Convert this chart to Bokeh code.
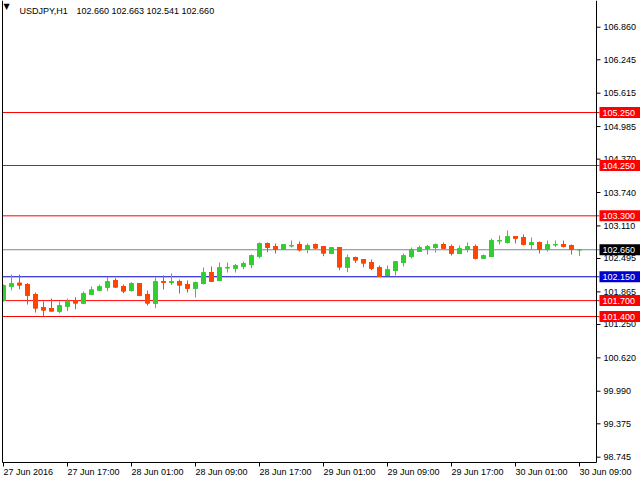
from bokeh.plotting import figure
from bokeh.models import Range1d, ColumnDataSource
from bokeh.core.properties import value
from bokeh.embed import file_html
from bokeh.resources import INLINE

symbol = "USDJPY,H1"

# hourly bars, index = hours since 27 Jun 2016 09:00
opens = [101.702, 101.972, 102.028, 102.004, 101.815, 101.570, 101.551, 101.500, 101.594, 101.696,
         101.651, 101.821, 101.897, 101.953, 102.080, 101.966, 101.891, 102.023, 101.815, 101.651,
         102.061, 102.042, 102.061, 102.004, 101.934, 102.023, 102.230, 102.080, 102.319, 102.312,
         102.349, 102.381, 102.538, 102.778, 102.721, 102.665, 102.734, 102.759, 102.665, 102.759,
         102.721, 102.595, 102.702, 102.331, 102.514, 102.476, 102.419, 102.325, 102.174, 102.268,
         102.419, 102.532, 102.627, 102.683, 102.702, 102.759, 102.721, 102.589, 102.665, 102.721,
         102.500, 102.532, 102.829, 102.797, 102.910, 102.891, 102.759, 102.797, 102.665, 102.753,
         102.759, 102.740, 102.660]
highs = [102.004, 102.193, 102.193, 102.032, 101.853, 101.683, 101.740, 101.683, 101.740, 101.764,
         101.872, 101.966, 102.004, 102.149, 102.123, 102.004, 102.048, 102.023, 101.891, 102.136,
         102.174, 102.212, 102.098, 102.080, 102.061, 102.325, 102.344, 102.419, 102.419, 102.391,
         102.438, 102.570, 102.797, 102.797, 102.778, 102.759, 102.834, 102.816, 102.778, 102.778,
         102.721, 102.702, 102.702, 102.570, 102.532, 102.476, 102.476, 102.363, 102.363, 102.438,
         102.589, 102.702, 102.740, 102.750, 102.778, 102.797, 102.759, 102.740, 102.797, 102.759,
         102.570, 102.872, 102.929, 103.023, 102.910, 102.948, 102.891, 102.816, 102.834, 102.834,
         102.834, 102.759, 102.663]
lows = [101.683, 101.897, 101.915, 101.627, 101.476, 101.400, 101.500, 101.462, 101.500, 101.538,
        101.632, 101.810, 101.878, 101.878, 101.941, 101.840, 101.872, 101.783, 101.608, 101.557,
        101.910, 101.995, 101.834, 101.853, 101.759, 102.004, 102.061, 102.080, 102.230, 102.230,
        102.293, 102.312, 102.500, 102.614, 102.589, 102.665, 102.702, 102.627, 102.595, 102.670,
        102.538, 102.576, 102.274, 102.236, 102.410, 102.331, 102.274, 102.155, 102.164, 102.174,
        102.344, 102.495, 102.627, 102.570, 102.608, 102.683, 102.551, 102.589, 102.608, 102.476,
        102.500, 102.532, 102.759, 102.778, 102.778, 102.740, 102.665, 102.589, 102.627, 102.712,
        102.702, 102.570, 102.541]
closes = [101.985, 102.023, 101.991, 101.796, 101.557, 101.519, 101.500, 101.608, 101.689, 101.651,
          101.834, 101.904, 101.966, 102.061, 101.953, 101.878, 102.023, 101.796, 101.651, 102.061,
          102.042, 102.061, 101.991, 101.929, 102.042, 102.230, 102.061, 102.325, 102.325, 102.363,
          102.400, 102.551, 102.778, 102.702, 102.665, 102.759, 102.740, 102.655, 102.740, 102.689,
          102.595, 102.702, 102.331, 102.514, 102.463, 102.406, 102.306, 102.155, 102.287, 102.438,
          102.551, 102.665, 102.702, 102.721, 102.759, 102.683, 102.589, 102.683, 102.721, 102.495,
          102.551, 102.834, 102.834, 102.910, 102.872, 102.759, 102.797, 102.665, 102.759, 102.759,
          102.721, 102.665, 102.660]

time_tick_bars = [0, 8, 16, 24, 32, 40, 48, 56, 64, 72]
time_tick_labels = ["27 Jun 2016", "27 Jun 17:00", "28 Jun 01:00", "28 Jun 09:00", "28 Jun 17:00",
                    "29 Jun 01:00", "29 Jun 09:00", "29 Jun 17:00", "30 Jun 01:00", "30 Jun 09:00"]
price_ticks = [106.860, 106.245, 105.615, 104.985, 104.370, 103.740, 103.110, 102.495,
               101.865, 101.250, 100.620, 99.990, 99.375, 98.745]

red_levels = [105.250, 104.250, 103.300, 101.700, 101.400]
blue_levels = [102.150]

GREEN = "#32CD32"
RED = "#FF4500"
FONT = "Liberation Sans"
FS = "9px"

# ---- layout geometry (canvas 640x480, chart area 2..596 x 0..462) ----
W, H = 640, 480
AREA_L, AREA_R, AREA_T, AREA_B = 2, 596, 0, 462
X_LO, X_HI = -0.125, 74.125        # bar-index span of the chart area
Y_LO, Y_HI = 98.645, 107.364       # price span of the chart area
kx = (X_HI - X_LO) / (AREA_R - AREA_L)   # data per pixel
ky = (Y_HI - Y_LO) / (AREA_B - AREA_T)

def px_x(px):
    return X_LO + (px - AREA_L) * kx

def px_y(py):
    return Y_HI - (py - AREA_T) * ky

p = figure(width=W, height=H, output_backend="svg", toolbar_location=None,
           x_range=Range1d(px_x(0), px_x(W)), y_range=Range1d(px_y(H), px_y(0)),
           min_border=0, min_border_left=0, min_border_right=0,
           min_border_top=0, min_border_bottom=0)
p.axis.visible = False
p.grid.visible = False
p.outline_line_color = None
p.background_fill_color = "white"
p.border_fill_color = "white"

x_left, x_axis = px_x(AREA_L), px_x(AREA_R)
y_bottom = px_y(AREA_B)

# ---- horizontal level lines ----
lv_src = ColumnDataSource(dict(
    y=red_levels + blue_levels + [closes[-1]],
    color=["#FF0000"] * len(red_levels) + ["#0000CD"] * len(blue_levels) + ["#778899"],
    box=["#FF0000"] * len(red_levels) + ["#0000CD"] * len(blue_levels) + ["#000000"],
    text=[f"{v:.3f}" for v in red_levels + blue_levels + [closes[-1]]],
))
p.segment(x0=x_left, y0="y", x1=px_x(AREA_R + 3), y1="y", line_color="color", line_width=1, source=lv_src)

# ---- candles ----
n = len(opens)
idx = list(range(n))
colors = [GREEN if c >= o else RED for o, c in zip(opens, closes)]
src = ColumnDataSource(dict(
    x=idx, o=opens, h=highs, l=lows, c=closes,
    top=[max(o, c) for o, c in zip(opens, closes)],
    bottom=[min(o, c) for o, c in zip(opens, closes)],
    xl=[i - 0.3 for i in idx], xr=[i + 0.3 for i in idx],
    color=colors))
p.segment(x0="x", y0="h", x1="x", y1="l", color="color", line_width=1, source=src)
p.vbar(x="x", top="top", bottom="bottom", width=0.5, fill_color="color", line_color="color",
       line_width=1, source=src)
p.segment(x0="xl", y0="o", x1="xr", y1="o", color="color", line_width=1, source=src)

# cover the part of the first candle left of the chart area
p.quad(left=px_x(0), right=x_left, bottom=px_y(H), top=px_y(0), fill_color="white", line_color=None)

# ---- frame lines ----
p.segment(x0=[x_left, x_axis, x_left], y0=[y_bottom, y_bottom, y_bottom],
          x1=[x_left, x_axis, x_axis], y1=[px_y(0), px_y(0), y_bottom],
          line_color="black", line_width=1)

# ---- right price scale ----
yt_src = ColumnDataSource(dict(y=price_ticks, text=[f"{v:.3f}" for v in price_ticks]))
p.segment(x0=x_axis, y0="y", x1=px_x(AREA_R + 4), y1="y", line_color="black", line_width=1, source=yt_src)
p.text(x=px_x(AREA_R + 7), y="y", text="text", source=yt_src, text_align="left",
       text_baseline="middle", text_font=value(FONT), text_font_size=FS, text_color="black")

# ---- level boxes on the price scale ----
p.quad(left=px_x(AREA_R + 3), right=px_x(W), top=[v + 5.5 * ky for v in lv_src.data["y"]],
       bottom=[v - 5.5 * ky for v in lv_src.data["y"]], fill_color=lv_src.data["box"], line_color=None)
p.text(x=px_x(AREA_R + 6), y="y", text="text", source=lv_src, text_align="left",
       text_baseline="middle", text_font=value(FONT), text_font_size=FS, text_color="white")

# ---- bottom time scale ----
xt_src = ColumnDataSource(dict(x=time_tick_bars, text=time_tick_labels))
p.segment(x0="x", y0=y_bottom, x1="x", y1=px_y(AREA_B + 4), line_color="black", line_width=1, source=xt_src)
p.text(x="x", y=px_y(AREA_B + 4), text="text", source=xt_src, text_align="left",
       text_baseline="top", text_font=value(FONT), text_font_size=FS, text_color="black")

# ---- header ----
p.text(x=[px_x(3)], y=[px_y(6)], text=["\u25BC"], text_align="left", text_baseline="middle",
       text_font=value("DejaVu Sans"), text_font_size="8px", text_color="black")
ohlc_text = f"{opens[-1]:.3f} {highs[-1]:.3f} {lows[-1]:.3f} {closes[-1]:.3f}"
p.text(x=[px_x(19), px_x(76)], y=[px_y(10), px_y(10)], text=[symbol, ohlc_text],
       text_align="left", text_baseline="middle", text_font=value(FONT),
       text_font_size=FS, text_color="black")

open("out.html", "w").write(file_html(p, INLINE))
